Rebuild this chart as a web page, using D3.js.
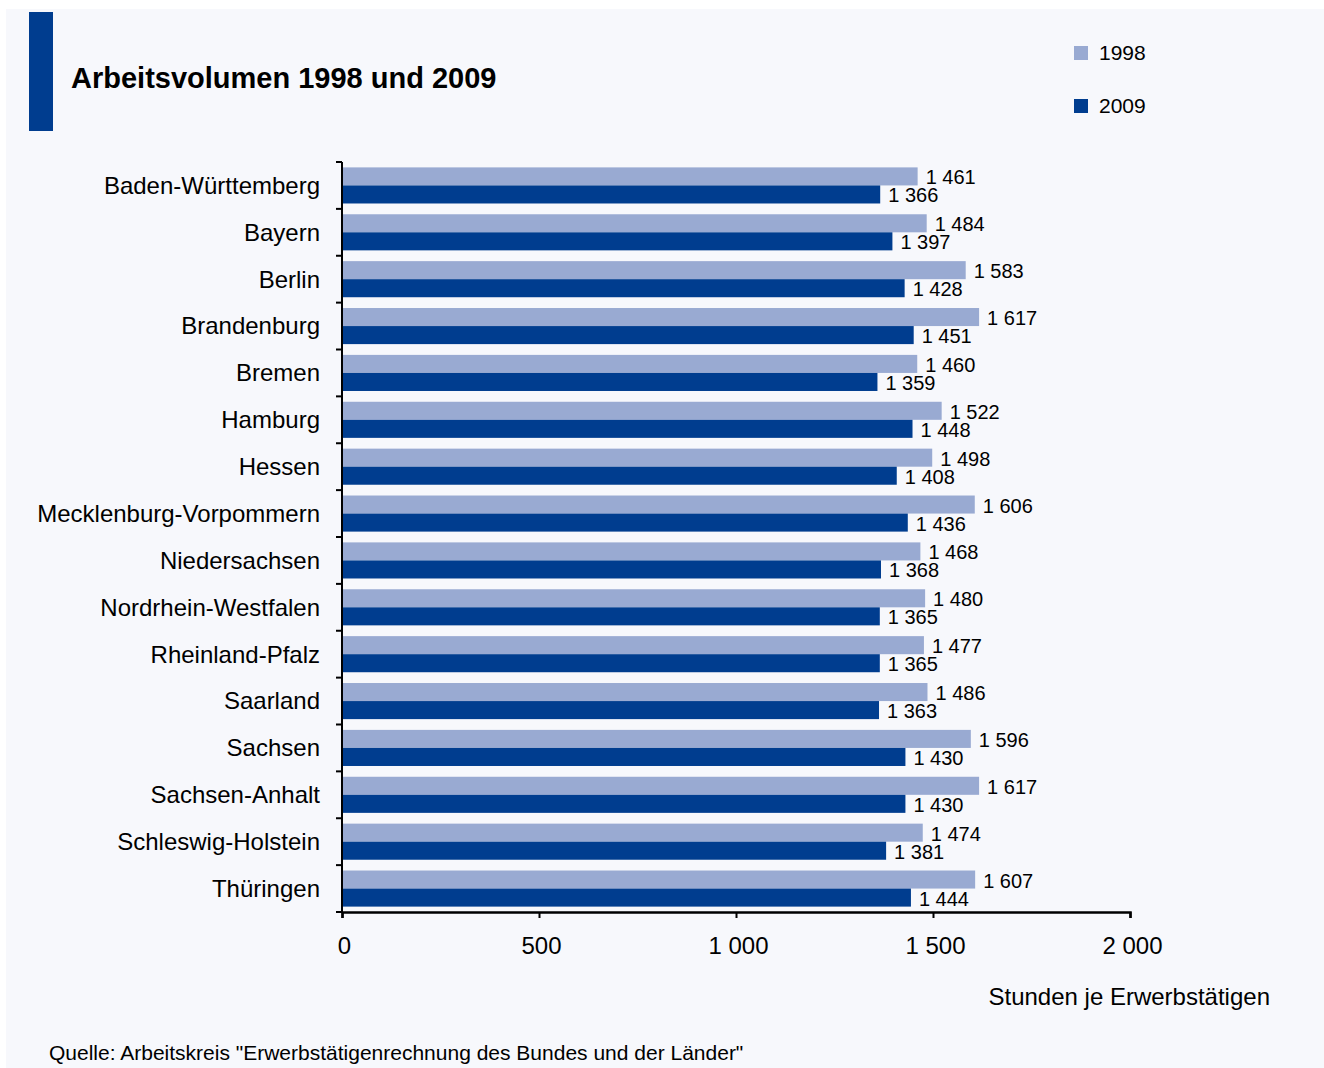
<!DOCTYPE html>
<html><head><meta charset="utf-8">
<script src="https://cdn.jsdelivr.net/npm/d3@7"></script>
<style>html,body{margin:0;padding:0;background:#fff;}svg{display:block;font-family:"Liberation Sans",Arial,sans-serif;}</style>
</head><body>
<svg id="c" width="1324" height="1068"></svg>
<script>
const categories = ["Baden-Württemberg","Bayern","Berlin","Brandenburg","Bremen","Hamburg","Hessen","Mecklenburg-Vorpommern","Niedersachsen","Nordrhein-Westfalen","Rheinland-Pfalz","Saarland","Sachsen","Sachsen-Anhalt","Schleswig-Holstein","Thüringen"];
const values1998 = [1461,1484,1583,1617,1460,1522,1498,1606,1468,1480,1477,1486,1596,1617,1474,1607];
const values2009 = [1366,1397,1428,1451,1359,1448,1408,1436,1368,1365,1365,1363,1430,1430,1381,1444];
const seriesNames = ["1998","2009"];
const xTicks = [0,500,1000,1500,2000];
const title = "Arbeitsvolumen 1998 und 2009";
const xTitle = "Stunden je Erwerbstätigen";
const source = "Quelle: Arbeitskreis \"Erwerbstätigenrechnung des Bundes und der Länder\"";

const colors = ["#99aad2","#003d8f"];
const fmt = v => d3.format(",")(v).replace(/,/g, " ");

const svg = d3.select("#c");
svg.append("rect").attr("x",6).attr("y",9).attr("width",1318).attr("height",1059).attr("fill","#f7f8fc");
svg.append("rect").attr("x",29).attr("y",12).attr("width",24).attr("height",119).attr("fill","#003d8f");
svg.append("text").attr("x",71).attr("y",88).attr("font-size",29).attr("font-weight","bold").attr("fill","#000").text(title);

// legend
seriesNames.forEach((s,i)=>{
  const y = 46 + i*53;
  svg.append("rect").attr("x",1074).attr("y",y).attr("width",14).attr("height",14).attr("fill",colors[i]);
  svg.append("text").attr("x",1099).attr("y",y+14).attr("font-size",21).attr("fill","#000").text(s);
});

const x = d3.scaleLinear().domain([0,2000]).range([342,1130]);
const y = d3.scaleBand().domain(categories).range([162,912]).paddingInner(0.23).paddingOuter(0.115);
const ySub = d3.scaleBand().domain(seriesNames).range([0,y.bandwidth()]);

const data = categories.map((c,i)=>({c, v:[values1998[i], values2009[i]]}));

const g = svg.append("g");
data.forEach(d=>{
  seriesNames.forEach((s,j)=>{
    g.append("rect").attr("x",x(0)).attr("y",y(d.c)+ySub(s)).attr("width",x(d.v[j])-x(0)).attr("height",ySub.bandwidth()).attr("fill",colors[j]);
    g.append("text").attr("x",x(d.v[j])+8).attr("y",y(d.c)+ySub(s)+ySub.bandwidth()/2+1).attr("dy","0.35em")
      .attr("font-size",20).attr("fill","#000").text(fmt(d.v[j]));
  });
});

// y axis with ticks between categories
const yAxisG = svg.append("g");
yAxisG.append("line").attr("x1",342).attr("x2",342).attr("y1",162).attr("y2",913).attr("stroke","#000").attr("stroke-width",2);
for(let i=0;i<=categories.length;i++){
  const yy = 162 + i*(750/categories.length);
  yAxisG.append("line").attr("x1",336).attr("x2",342).attr("y1",yy).attr("y2",yy).attr("stroke","#000").attr("stroke-width",2);
}
categories.forEach(c=>{
  yAxisG.append("text").attr("x",320).attr("y",y(c)+y.bandwidth()/2).attr("dy","0.35em").attr("text-anchor","end")
    .attr("font-size",24).attr("fill","#000").text(c);
});

// x axis
const xAxis = d3.axisBottom(x).tickValues(xTicks).tickSize(6).tickPadding(19).tickFormat(fmt);
const xg = svg.append("g").attr("transform","translate(0,912)").call(xAxis);
xg.select(".domain").attr("stroke","#000").attr("stroke-width",2.5);
xg.selectAll(".tick line").attr("stroke","#000").attr("stroke-width",2);
xg.selectAll(".tick text").attr("font-size",24).attr("fill","#000").attr("font-family","Liberation Sans, Arial, sans-serif").attr("dx","2");

svg.append("text").attr("x",1270).attr("y",1005).attr("text-anchor","end").attr("font-size",24).attr("fill","#000").text(xTitle);
svg.append("text").attr("x",49).attr("y",1060).attr("font-size",21).attr("fill","#000").text(source);
</script>
</body></html>
